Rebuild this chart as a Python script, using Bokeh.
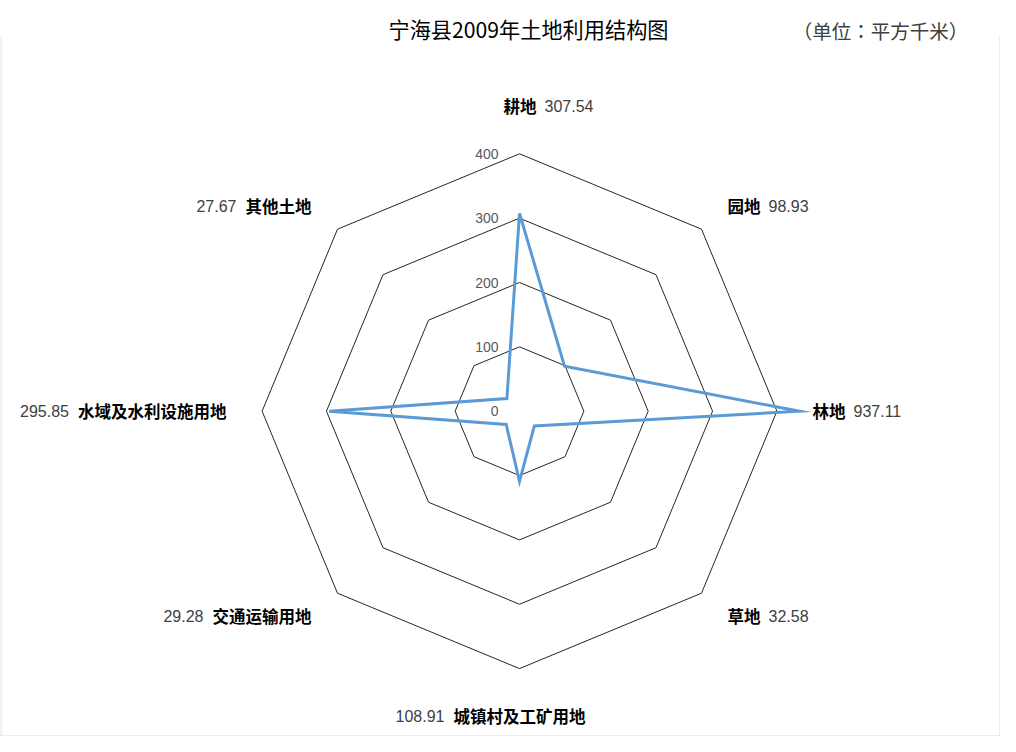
import math
from bokeh.plotting import figure
from bokeh.models import Range1d
from bokeh.embed import file_html
from bokeh.resources import INLINE
from bokeh.core.properties import value

# ---- data ----
categories = ["耕地", "园地", "林地", "草地", "城镇村及工矿用地", "交通运输用地", "水域及水利设施用地", "其他土地"]
values = [307.54, 98.93, 937.11, 32.58, 108.91, 29.28, 295.85, 27.67]
value_labels = ["307.54", "98.93", "937.11", "32.58", "108.91", "29.28", "295.85", "27.67"]
ring_ticks = [100, 200, 300, 400]
tick_values = [0, 100, 200, 300, 400]
tick_labels = ["0", "100", "200", "300", "400"]
title_text = "宁海县2009年土地利用结构图"
unit_text = "（单位：平方千米）"

# ---- layout (picture pixels) ----
S = 0.6435          # px per unit
CX, CY = 519.0, 410.7
W, H = 1000, 736
CLIP = 435.0        # radial display limit of the plot area

def px(xp, yp):
    return (xp - CX) / S, (CY - yp) / S

p = figure(width=W, height=H, output_backend="svg", toolbar_location=None,
           x_range=Range1d((0 - CX) / S, (W - CX) / S),
           y_range=Range1d((CY - H) / S, (CY - 0) / S),
           min_border=0, min_border_left=0, min_border_right=0,
           min_border_top=0, min_border_bottom=0)
p.axis.visible = False
p.grid.visible = False
p.outline_line_color = None
p.background_fill_color = "white"
p.border_fill_color = "white"

n = len(categories)
ang = [2 * math.pi * i / n for i in range(n)]

# faint frame
fx0, fy0 = px(0.5, 36)
fx1, fy1 = px(W - 0.5, H - 0.5)
p.line([fx0, fx0, fx1, fx1], [fy0, fy1, fy1, fy0], line_color="#D9D9D9", line_width=1)

# rings
xs, ys = [], []
for t in ring_ticks:
    xs.append([t * math.sin(a) for a in ang] + [0.0])
    ys.append([t * math.cos(a) for a in ang] + [t])
p.multi_line(xs, ys, line_color="#262626", line_width=1)

# tick labels
p.text(x=[0] * len(tick_values), y=tick_values, text=tick_labels,
       x_offset=-21, text_align="right", text_baseline="middle",
       text_font=value("Liberation Sans"), text_font_size="14px", text_color="#595959")

# data line
rv = [min(v, CLIP) for v in values]
lx = [r * math.sin(a) for r, a in zip(rv, ang)]
ly = [r * math.cos(a) for r, a in zip(rv, ang)]
p.line(lx + lx[:1], ly + ly[:1], line_color="#5B9BD5", line_width=3, line_join="miter")

# category labels
NAME_FS = 16.5
GAP = 9
R_SIDE = 290 / S
R_TB = 305 / S
PAD = 3
name_kw = dict(text_font=value("Noto Sans CJK SC"), text_font_size=f"{NAME_FS}px",
               text_font_style="bold", text_color="#000000", text_baseline="middle")
num_kw = dict(text_font=value("Liberation Sans"), text_font_size="16px",
              text_color="#404040", text_baseline="middle")

for name, lab, a in zip(categories, value_labels, ang):
    s, c = math.sin(a), math.cos(a)
    nw = len(name) * NAME_FS
    if abs(s) < 1e-6:
        ax, ay = 0.0, R_TB * (1 if c > 0 else -1)
        if c > 0:   # top: name then number
            p.text(x=[ax], y=[ay], text=[name], x_offset=-16, text_align="left", **name_kw)
            p.text(x=[ax], y=[ay], text=[lab], x_offset=-16 + nw + GAP - 1, text_align="left", **num_kw)
        else:       # bottom: number then name
            p.text(x=[ax], y=[ay], text=[name], x_offset=-66, text_align="left", **name_kw)
            p.text(x=[ax], y=[ay], text=[lab], x_offset=-66 - GAP, text_align="right", **num_kw)
    elif s > 0:
        ax, ay = R_SIDE * s, R_SIDE * c
        p.text(x=[ax], y=[ay], text=[name], x_offset=PAD, text_align="left", **name_kw)
        p.text(x=[ax], y=[ay], text=[lab], x_offset=PAD + nw + GAP - 1, text_align="left", **num_kw)
    else:
        ax, ay = R_SIDE * s, R_SIDE * c
        p.text(x=[ax], y=[ay], text=[name], x_offset=-PAD, text_align="right", **name_kw)
        p.text(x=[ax], y=[ay], text=[lab], x_offset=-PAD - nw - GAP, text_align="right", **num_kw)

# title and unit
tx, ty = px(528, 28)
p.text(x=[tx], y=[ty], text=[title_text], text_align="center", text_baseline="middle",
       text_font=value("Noto Sans CJK SC"), text_font_size="21.2px", text_color="#000000")
ux, uy = px(880, 30)
p.text(x=[ux], y=[uy], text=[unit_text], text_align="center", text_baseline="middle",
       text_font=value("Noto Sans CJK JP"), text_font_size="19.5px", text_color="#404040")

open("out.html", "w").write(file_html(p, INLINE))
